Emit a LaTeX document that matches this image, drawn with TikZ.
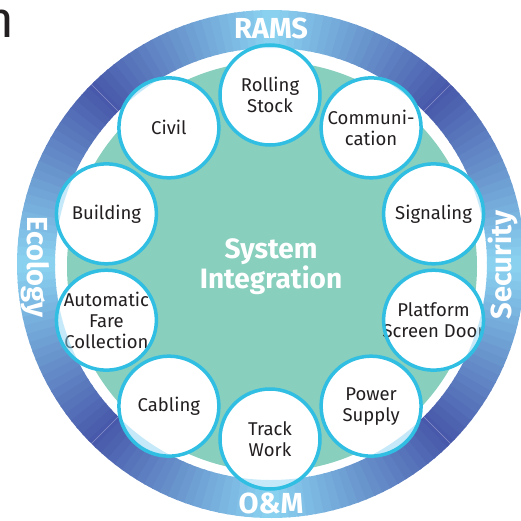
\documentclass[tikz,border=0pt]{standalone}
\usepackage{fontspec}
\setmainfont{Fira Sans}
\newlength{\du}
\setlength{\du}{1pt}
\definecolor{ringdark}{RGB}{72,88,170}
\definecolor{ringlight}{RGB}{140,212,242}
\definecolor{discteal}{RGB}{137,207,190}
\definecolor{rimcyan}{RGB}{48,190,226}
\definecolor{labelgray}{RGB}{35,31,32}
\tikzset{
  subsys/.style={circle, fill=white, minimum size=100\du, inner sep=0pt},
  subtext/.style={align=center, inner sep=0pt, text=labelgray, font=\fontsize{18.5}{21}\selectfont},
  rim/.style={draw=rimcyan, line width=3.5\du},
  tint/.style={fill=ringlight, opacity=0.5},
  ringlabel/.style={text=white, inner sep=0pt, font=\fontsize{29}{31}\selectfont\bfseries},
  hubtext/.style={text=white, align=center, inner sep=0pt, font=\fontsize{28}{30}\selectfont\bfseries}
}

\begin{document}
\begin{tikzpicture}
\useasboundingbox (-271\du,-256\du) rectangle (250\du,264\du);
% cut-off letter
\node[anchor=base east, inner sep=0pt, text=labelgray, font=\fontsize{51}{51}\selectfont] (cutoff) at (-256\du,227\du) {n};
% outer ring
\foreach \a in {0,2,...,358} {
  \pgfmathsetmacro{\t}{100-100*abs(mod(\a+1,90)-45)/45}
  \fill[ringdark!\t!ringlight] (\a:216\du) -- (\a:254\du) arc[start angle=\a, delta angle=2.4, radius=254\du] -- ({\a+2.4}:216\du) arc[start angle=\a+2.4, delta angle=-2.4, radius=216\du] -- cycle;
}
\foreach \a in {45,135,225,315}
  \draw[white, opacity=0.35, line width=0.6\du] (\a:216\du) -- (\a:254\du);
% teal disc
\fill[discteal] (1\du,-2.5\du) circle (205\du);
% subsystems
\begin{scope}[shift={(-1\du,-3\du)}]
\node[subsys, label={[subtext]center:Rolling\\Stock}] (rolling) at (90:172\du) {};
\node[subsys, label={[subtext]center:Communi-\\cation}] (comm) at (54:172\du) {};
\node[subsys, label={[subtext]center:Signaling}] (signal) at (18:172\du) {};
\node[subsys, label={[subtext]center:Platform\\Screen Door}] (psd) at (-18:172\du) {};
\node[subsys, label={[subtext]center:Power\\Supply}] (power) at (-54:172\du) {};
\node[subsys, label={[subtext]center:Track\\Work}] (track) at (-90:172\du) {};
\node[subsys, label={[subtext]center:Cabling}] (cabling) at (-126:172\du) {};
\node[subsys, label={[subtext]center:Automatic\\Fare\\Collection}] (afc) at (-162:172\du) {};
\node[subsys, label={[subtext]center:Building}] (building) at (162:172\du) {};
\node[subsys, label={[subtext]center:Civil}] (civil) at (126:172\du) {};
\end{scope}
% ring shows through the circles
\foreach \n in {rolling,comm,signal,psd,power,track,cabling,afc,building,civil} {
  \begin{scope}
  \clip (\n.center) circle (50\du);
  \fill[tint, even odd rule] (0,0) circle (254\du) (0,0) circle (216\du);
  \end{scope}
  \draw[rim] (\n.center) circle (50\du);
}
% labels
\node[hubtext] (hub) at (0\du,-3\du) {System\\Integration};
\node[ringlabel] (rams) at (0\du,236\du) {RAMS};
\node[ringlabel] (om) at (0\du,-239\du) {O\&M};
\node[ringlabel, rotate=-90] (ecology) at (-236\du,-3\du) {Ecology};
\node[ringlabel, rotate=90] (security) at (232\du,-1\du) {Security};
\end{tikzpicture}
\end{document}
